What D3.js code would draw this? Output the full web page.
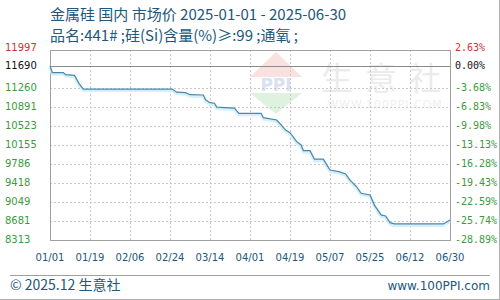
<!DOCTYPE html>
<html>
<head>
<meta charset="utf-8">
<script src="https://cdn.jsdelivr.net/npm/d3@7"></script>
<style>
  body { margin: 0; background: #fff; }
  svg { display: block; }
</style>
</head>
<body>
<svg id="chart" width="500" height="300"></svg>
<script>
// price series (date, yuan/ton)
const dates = ["2025-01-01","2025-01-02","2025-01-07","2025-01-08","2025-01-12","2025-01-14","2025-01-16",
  "2025-02-25","2025-02-27","2025-03-03","2025-03-05","2025-03-11","2025-03-12","2025-03-14","2025-03-16",
  "2025-03-17","2025-03-25","2025-03-27","2025-04-06","2025-04-07","2025-04-13","2025-04-15","2025-04-17",
  "2025-04-19","2025-04-22","2025-04-24","2025-04-25","2025-04-28","2025-04-30","2025-05-04","2025-05-07",
  "2025-05-11","2025-05-14","2025-05-16","2025-05-19","2025-05-21","2025-05-25","2025-05-27","2025-05-30",
  "2025-06-01","2025-06-03","2025-06-05","2025-06-27","2025-06-30"];
const prices = [11690,11560,11560,11520,11505,11350,11240,
  11240,11180,11170,11130,11125,11030,10975,10965,
  10890,10870,10770,10770,10685,10640,10545,10445,
  10395,10220,10155,10045,10045,9880,9880,9670,
  9640,9595,9475,9345,9220,9185,8990,8800,
  8780,8650,8625,8625,8700];

const yTicks = [8313, 8681, 9049, 9418, 9786, 10155, 10523, 10891, 11260];
const pctLabels = ["-28.89%","-25.74%","-22.59%","-19.43%","-16.28%","-13.13%","-9.98%","-6.83%","-3.68%"];
const baseValue = 11690;
const baseLabel = "0.00%";
const maxValue = 11997;
const maxLabel = "2.63%";
const xTickLabels = ["01/01","01/19","02/06","02/24","03/14","04/01","04/19","05/07","05/25","06/12","06/30"];

const titleText = "金属硅 国内 市场价 2025-01-01 - 2025-06-30";
const subText = "品名:441# ;硅(Si)含量(%)≥:99 ;通氧 ;";

const svg = d3.select("#chart");
const plot = { left: 50, right: 450, top: 50, bottom: 240 };
const parse = d3.utcParse("%Y-%m-%d");

const x = d3.scaleUtc()
  .domain([parse("2025-01-01"), parse("2025-06-30")])
  .range([plot.left, plot.right]);
const y = d3.scaleLinear()
  .domain([yTicks[0], maxValue])
  .range([plot.bottom, plot.top]);

const data = dates.map((d, i) => ({ date: parse(d), value: prices[i] }));

// title
svg.append("text").attr("x", 50).attr("y", 20)
  .attr("fill", "#21587a").style("font", "15px 'Noto Sans CJK SC', sans-serif")
  .text(titleText);
svg.append("text").attr("x", 50).attr("y", 41)
  .attr("fill", "#21587a").style("font", "15px 'Noto Sans CJK SC', sans-serif")
  .text(subText);

// watermark
const wm = svg.append("g").attr("opacity", 0.55);
wm.append("polygon").attr("points", "276,52 302,77 250,77").attr("fill", "#f3c9c6");
wm.append("text").attr("x", 276).attr("y", 91).attr("text-anchor", "middle")
  .attr("fill", "#b9c8e6").style("font", "bold 17px 'DejaVu Sans', sans-serif").text("PPI");
wm.append("polygon").attr("points", "250,93 302,93 276,114").attr("fill", "#c5e6c5");
wm.append("text").attr("x", 387).attr("y", 90).attr("text-anchor", "middle")
  .attr("fill", "#dcdcdc").style("font", "32px 'Noto Sans CJK SC', sans-serif")
  .attr("letter-spacing", "12").text("生意社");
wm.append("text").attr("x", 385).attr("y", 108).attr("text-anchor", "middle")
  .attr("fill", "#e2e2e2").style("font", "11px 'DejaVu Sans', sans-serif")
  .attr("letter-spacing", "1").text("WWW.100PPI.COM");

// grid
const grid = svg.append("g").attr("stroke", "#c8c8c8").attr("stroke-dasharray", "2,2").attr("stroke-width", 1);
grid.selectAll("line.h").data(yTicks.concat([maxValue])).join("line")
  .attr("x1", plot.left).attr("x2", plot.right)
  .attr("y1", d => Math.round(y(d)) + 0.5).attr("y2", d => Math.round(y(d)) + 0.5);
grid.selectAll("line.v").data(xTickLabels).join("line")
  .attr("x1", (d, i) => Math.round(plot.left + i * (plot.right - plot.left) / 10) + 0.5)
  .attr("x2", (d, i) => Math.round(plot.left + i * (plot.right - plot.left) / 10) + 0.5)
  .attr("y1", plot.top).attr("y2", plot.bottom);

// base line
svg.append("line").attr("x1", plot.left).attr("x2", plot.right)
  .attr("y1", Math.round(y(baseValue)) + 0.5).attr("y2", Math.round(y(baseValue)) + 0.5)
  .attr("stroke", "#8a8a8a");

// frame
svg.append("rect").attr("x", plot.left + 0.5).attr("y", plot.top + 0.5)
  .attr("width", plot.right - plot.left).attr("height", plot.bottom - plot.top)
  .attr("fill", "none").attr("stroke", "#a0a0a0");

// price line with light halo
const line = d3.line().x(d => x(d.date)).y(d => y(d.value));
svg.append("path").datum(data).attr("d", line)
  .attr("fill", "none").attr("stroke", "#d4f0fa").attr("stroke-width", 3)
  .attr("transform", "translate(0,1.5)");
svg.append("path").datum(data).attr("d", line)
  .attr("fill", "none").attr("stroke", "#4a87ab").attr("stroke-width", 1.2);

// left labels
const left = svg.append("g").style("font", "10px 'DejaVu Sans', sans-serif");
left.selectAll("text").data(yTicks).join("text")
  .attr("x", 5).attr("y", d => y(d) - 1).attr("dy", "0.35em")
  .attr("fill", "#3c9a3c").text(d => d);
left.append("text").attr("x", 5).attr("y", y(baseValue)).attr("dy", "0.35em").attr("fill", "#111").text(baseValue);
left.append("text").attr("x", 5).attr("y", y(maxValue) - 3).attr("dy", "0.35em").attr("fill", "#cc3333").text(maxValue);

// right labels
const right = svg.append("g").style("font", "10px 'DejaVu Sans Mono', monospace");
right.selectAll("text").data(yTicks).join("text")
  .attr("x", 455).attr("y", d => y(d) - 1).attr("dy", "0.35em")
  .attr("fill", "#3c9a3c").text((d, i) => pctLabels[i]);
right.append("text").attr("x", 455).attr("y", y(baseValue)).attr("dy", "0.35em").attr("fill", "#111").text(baseLabel);
right.append("text").attr("x", 455).attr("y", y(maxValue) - 3).attr("dy", "0.35em").attr("fill", "#cc3333").text(maxLabel);

// x labels
svg.append("g").style("font", "10px 'DejaVu Sans', sans-serif")
  .selectAll("text").data(xTickLabels).join("text")
  .attr("x", (d, i) => plot.left + i * (plot.right - plot.left) / 10)
  .attr("y", 257).attr("dy", "0.35em").attr("text-anchor", "middle")
  .attr("fill", "#21587a").text(d => d);

// footer
svg.append("line").attr("x1", 10).attr("x2", 490).attr("y1", 275.5).attr("y2", 275.5).attr("stroke", "#a0a0a0");
svg.append("text").attr("x", 10).attr("y", 290).attr("fill", "#21587a")
  .style("font", "14px 'Noto Sans CJK SC', sans-serif").text("© 2025.12 生意社");
svg.append("text").attr("x", 490).attr("y", 290).attr("text-anchor", "end").attr("fill", "#21587a")
  .style("font", "12px 'DejaVu Sans', sans-serif").text("www.100PPI.com");

// outer edge
svg.append("line").attr("x1", 499.5).attr("x2", 499.5).attr("y1", 0).attr("y2", 300).attr("stroke", "#b0b0b0");
svg.append("line").attr("x1", 0).attr("x2", 500).attr("y1", 299.5).attr("y2", 299.5).attr("stroke", "#b0b0b0");
</script>
</body>
</html>
